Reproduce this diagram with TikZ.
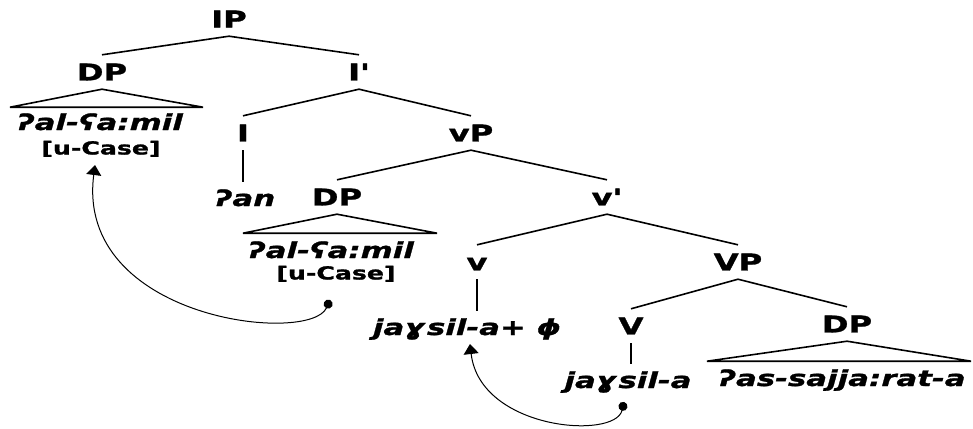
\documentclass[tikz,border=0pt]{standalone}
\usepackage{fontspec}
\setmainfont{DejaVu Sans}[FakeStretch=1.4,Ligatures=TeXOff,BoldFeatures={FakeBold=1.3},BoldItalicFeatures={FakeBold=1.3}]
\usetikzlibrary{arrows.meta,calc}
\begin{document}
\begin{tikzpicture}[x=1pt,y=-1pt,
  lab/.style={font=\fontsize{23}{23}\selectfont\bfseries, text height=16.8pt, text depth=0pt, inner xsep=2pt, inner ysep=8.6pt},
  word/.style={font=\fontsize{22}{22}\selectfont\bfseries\itshape, text height=16pt, text depth=0pt, inner xsep=2pt, inner ysep=8pt},
  feat/.style={font=\fontsize{18}{18}\selectfont\bfseries, text height=13pt, text depth=0pt, inner sep=0pt},
  branch/.style={line width=1.6pt},
  roof/.style={line width=1.6pt, line join=miter},
  move/.style={line width=1pt, {Circle[length=9pt]}-{Triangle[length=10pt,width=15pt]}}]
\fill[white] (0,0) rectangle (973,428);
\useasboundingbox (0,0) rectangle (973,428);

\node[lab] (IP) at (229,19) {IP};
\node[lab] (DPa) at (102,72) {DP};
\node[lab] (Ibar) at (359,72) {I'};
\node[word] (alA) at (100,122) {ʔal-ʕa:mil};
\node[feat] (caseA) at (101,148) {[u-Case]};
\node[lab] (I) at (243,133) {I};
\node[lab] (vP) at (471,133) {vP};
\node[word] (an) at (245,198) {ʔan};
\node[lab] (DPb) at (337,197) {DP};
\node[lab] (vbar) at (607,197) {v'};
\node[word] (alB) at (331,250) {ʔal-ʕa:mil};
\node[feat] (caseB) at (336,273) {[u-Case]};
\node[lab] (v) at (477,262) {v};
\node[lab] (VP) at (738,262) {VP};
\node[word] (vword) at (467,327) {jaɣsil-a+ ϕ};
\node[lab] (V) at (631,326) {V};
\node[lab] (DPc) at (847,324) {DP};
\node[word] (Vword) at (628,380) {jaɣsil-a};
\node[word] (obj) at (842,378) {ʔas-sajja:rat-a};

\draw[branch] (IP.south) -- (DPa.north);
\draw[branch] (IP.south) -- (Ibar.north);
\draw[branch] (Ibar.south) -- (I.north);
\draw[branch] (Ibar.south) -- (vP.north);
\draw[branch] (I.south) -- (I.south |- an.north);
\draw[branch] (vP.south) -- (DPb.north);
\draw[branch] (vP.south) -- (vbar.north);
\draw[branch] (vbar.south) -- (v.north);
\draw[branch] (vbar.south) -- (VP.north);
\draw[branch] (v.south) -- (v.south |- vword.north);
\draw[branch] (VP.south) -- (V.north);
\draw[branch] (VP.south) -- (DPc.north);
\draw[branch] (V.south) -- (V.south |- Vword.north);

\draw[roof] (DPa.south) -- ($(DPa.south)+(-92,18)$) -- ($(DPa.south)+(101,18)$) -- cycle;
\draw[roof] (DPb.south) -- ($(DPb.south)+(-94,19)$) -- ($(DPb.south)+(100,19)$) -- cycle;
\draw[roof] (DPc.south) -- ($(DPc.south)+(-140,20)$) -- ($(DPc.south)+(124,20)$) -- cycle;

\draw[move] ([shift={(-6,27)}]caseB.center) .. controls (310,345) and (75,320) .. ([shift={(-6,17)}]caseA.center);
\draw[move] ([shift={(-4,22)}]Vword.center) .. controls (615,440) and (480,430) .. ([shift={(3,17)}]vword.center);
\end{tikzpicture}
\end{document}
